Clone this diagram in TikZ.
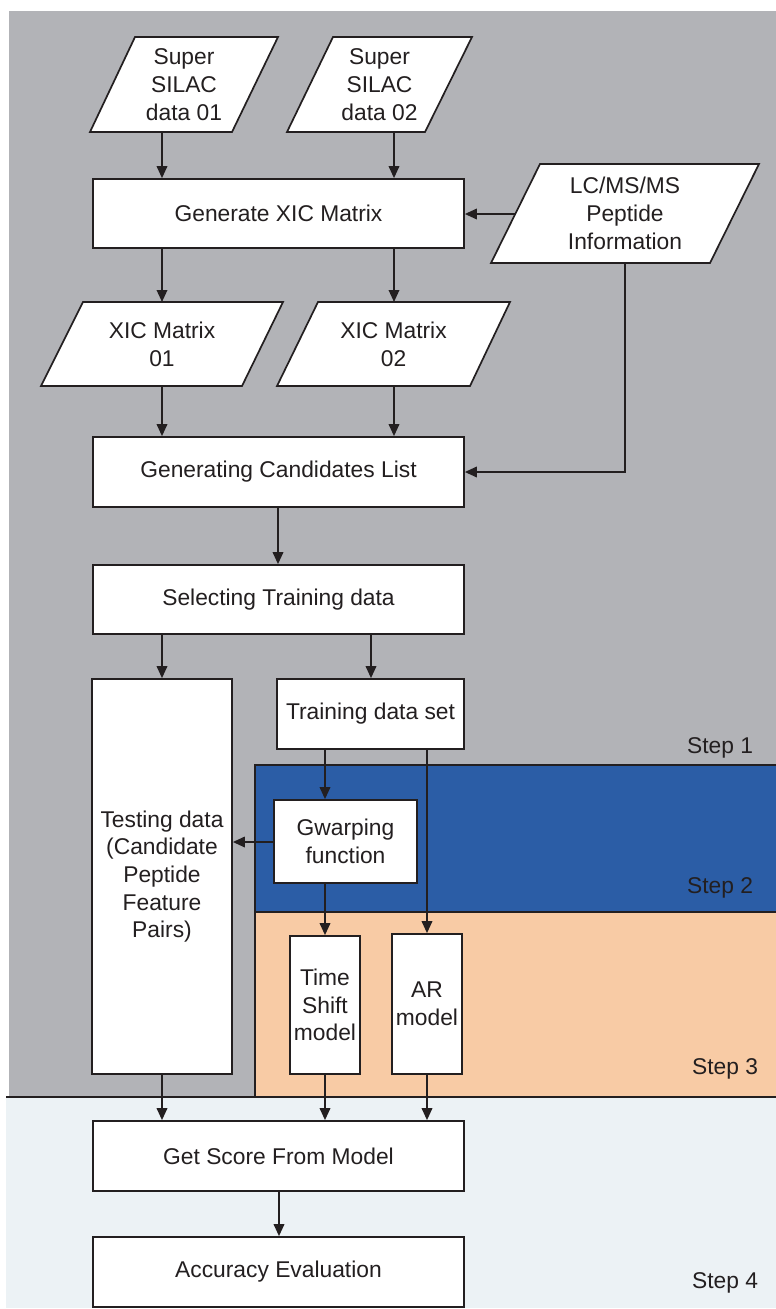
\documentclass[tikz,border=0pt]{standalone}
\usepackage{fontspec}
\setmainfont{Liberation Sans}
\usetikzlibrary{arrows.meta}
\definecolor{bggray}{HTML}{B2B3B7}
\definecolor{stepblue}{HTML}{2B5DA6}
\definecolor{steporange}{HTML}{F8CBA5}
\definecolor{steplight}{HTML}{ECF2F5}
\definecolor{ink}{HTML}{231F20}
\tikzset{
  box/.style={draw=ink, line width=1.7pt, fill=white, align=center, text=ink, inner sep=0pt, font=\fontsize{22.8}{27.7}\selectfont},
  para/.style={draw=ink, line width=1.7pt, fill=white},
  ptext/.style={align=center, text=ink, inner sep=0pt, font=\fontsize{22.8}{27.7}\selectfont},
  steplabel/.style={text=ink, inner sep=0pt, font=\fontsize{22.8}{27.7}\selectfont},
  conn/.style={draw=ink, line width=1.8pt, -{Triangle[length=12pt,width=10.5pt]}},
  region/.style={draw=ink, line width=1.7pt}
}
\begin{document}
\begin{tikzpicture}[x=1pt,y=-1pt]
\useasboundingbox (0,0) rectangle (776,1309);
% background regions
\fill[bggray] (9,11) rectangle (776,1097);
\fill[steplight] (6,1097) rectangle (776,1308);
\fill[stepblue] (255,765) rectangle (776,912);
\fill[steporange] (255,912) rectangle (776,1097);
\draw[region] (776,765) -- (255,765) -- (255,1097);
\draw[region] (255,912) -- (776,912);
\draw[region] (6,1097) -- (776,1097);

% parallelograms
\draw[para] (135,37) -- (278,37) -- (232,132) -- (90,132) -- cycle;
\node[ptext] (s1) at (184,84.5) {Super\\SILAC\\data 01};
\draw[para] (333,37) -- (472,37) -- (425,132) -- (287,132) -- cycle;
\node[ptext] (s2) at (379.5,84.5) {Super\\SILAC\\data 02};
\draw[para] (540,164) -- (759,164) -- (710,263) -- (491,263) -- cycle;
\node[ptext] (lc) at (625,213.5) {LC/MS/MS\\Peptide\\Information};
\draw[para] (83,302) -- (283,302) -- (242,386) -- (41,386) -- cycle;
\node[ptext] (x1) at (162,344) {XIC Matrix\\01};
\draw[para] (318,302) -- (510,302) -- (470,386) -- (277,386) -- cycle;
\node[ptext] (x2) at (393.5,344) {XIC Matrix\\02};

\coordinate (s1b) at (162,132);
\coordinate (s2b) at (394,132);
\coordinate (lcl) at (515,214);
\coordinate (lcb) at (625,263);
\coordinate (x1t) at (162,302);
\coordinate (x2t) at (394,302);
\coordinate (x1b) at (162,386);
\coordinate (x2b) at (394,386);

% boxes
\node[box, minimum width=371pt, minimum height=69pt] (gen) at (278.5,213.5) {Generate XIC Matrix};
\node[box, minimum width=371pt, minimum height=70pt] (cand) at (278.5,472) {Generating Candidates List};
\node[box, minimum width=371pt, minimum height=69pt] (sel) at (278.5,599.5) {Selecting Training data};
\node[box, minimum width=140pt, minimum height=395pt] (test) at (162,876.5) {Testing data\\(Candidate\\Peptide\\Feature\\Pairs)};
\node[box, minimum width=187pt, minimum height=70pt] (train) at (370.5,714) {Training data set};
\node[box, minimum width=143pt, minimum height=83pt] (gw) at (345.5,841.5) {Gwarping\\function};
\node[box, minimum width=70pt, minimum height=138pt] (ts) at (325,1005) {Time\\Shift\\model};
\node[box, minimum width=70pt, minimum height=140pt] (ar) at (427,1004) {AR\\model};
\node[box, minimum width=371pt, minimum height=70pt] (score) at (278.5,1156) {Get Score From Model};
\node[box, minimum width=371pt, minimum height=70pt] (acc) at (278.5,1272) {Accuracy Evaluation};

% step labels
\node[steplabel] (st1) at (720,748) {Step 1};
\node[steplabel] (st2) at (720,888) {Step 2};
\node[steplabel] (st3) at (725,1069) {Step 3};
\node[steplabel] (st4) at (725,1283) {Step 4};

% connectors
\draw[conn] (s1b) -- (s1b |- gen.north);
\draw[conn] (s2b) -- (s2b |- gen.north);
\draw[conn] (lcl) -- (gen.east |- lcl);
\draw[conn] (gen.south -| x1t) -- (x1t);
\draw[conn] (gen.south -| x2t) -- (x2t);
\draw[conn] (x1b) -- (x1b |- cand.north);
\draw[conn] (x2b) -- (x2b |- cand.north);
\draw[conn] (lcb) |- (cand.east);
\draw[conn] (cand.south -| 278,0) -- (278,0 |- sel.north);
\draw[conn] (sel.south -| test.north) -- (test.north);
\draw[conn] (sel.south -| 371,0) -- (371,0 |- train.north);
\draw[conn] (train.south -| ts.north) -- (gw.north -| ts.north);
\draw[conn] (train.south -| ar.north) -- (ar.north);
\draw[conn] (gw.west |- 0,842) -- (test.east |- 0,842);
\draw[conn] (gw.south -| ts.north) -- (ts.north);
\draw[conn] (test.south) -- (test.south |- score.north);
\draw[conn] (ts.south) -- (ts.south |- score.north);
\draw[conn] (ar.south) -- (ar.south |- score.north);
\draw[conn] (score.south -| 279,0) -- (279,0 |- acc.north);
\end{tikzpicture}
\end{document}
